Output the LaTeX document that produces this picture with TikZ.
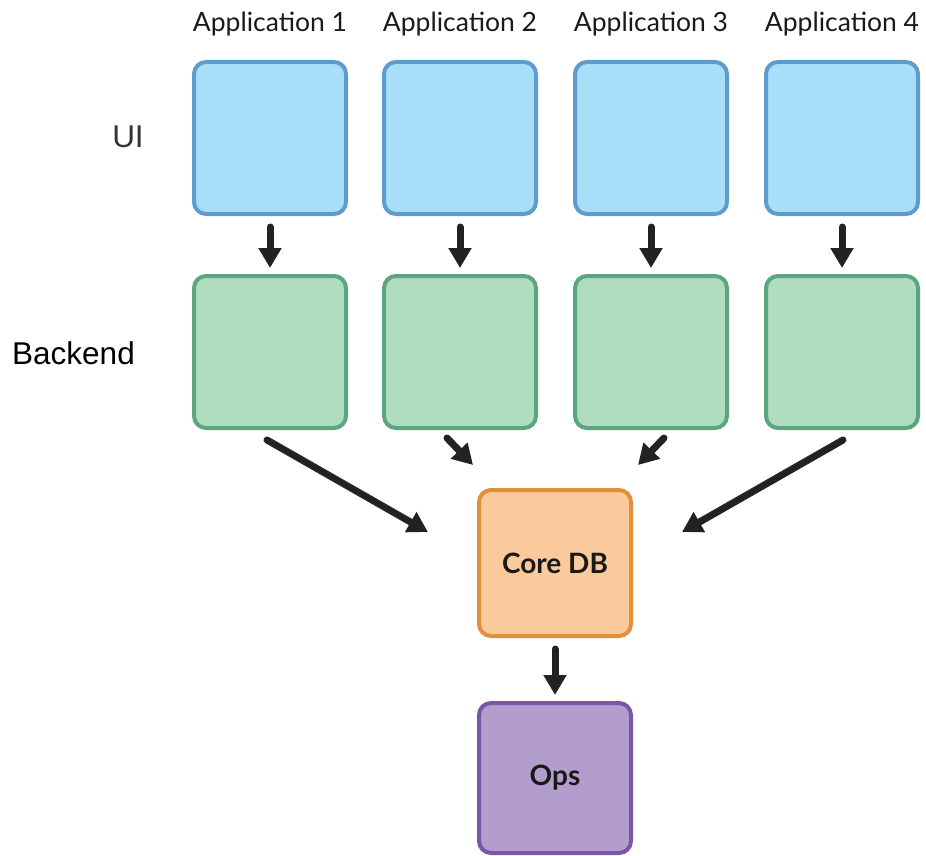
\documentclass[tikz,border=0pt]{standalone}
\usepackage{fontspec}
\setmainfont{Lato}
\newfontfamily\arialf{Liberation Sans}
\usetikzlibrary{arrows.meta}
\definecolor{uifill}{HTML}{A8DEF8}
\definecolor{uiline}{HTML}{5E9DCB}
\definecolor{befill}{HTML}{B0DCC0}
\definecolor{beline}{HTML}{5CA67F}
\definecolor{dbfill}{HTML}{FAC99C}
\definecolor{dbline}{HTML}{E0903A}
\definecolor{opfill}{HTML}{B39DCD}
\definecolor{opline}{HTML}{7A55A8}
\definecolor{arrc}{HTML}{222222}
\tikzset{
  box/.style={rectangle, rounded corners=12pt, line width=4pt, minimum width=152pt, minimum height=152pt, inner sep=0pt},
  uibox/.style={box, fill=uifill, draw=uiline},
  bebox/.style={box, fill=befill, draw=beline},
  dbbox/.style={box, fill=dbfill, draw=dbline, minimum height=146pt},
  opbox/.style={box, fill=opfill, draw=opline, minimum height=150pt},
  head/.style={font=\fontsize{26.5}{30}\selectfont, text=black!90, anchor=base, inner sep=0pt},
  side/.style={font=\arialf\fontsize{31.5}{34}\selectfont, inner sep=0pt},
  inner/.style={font=\bfseries\fontsize{28}{32}\selectfont, text=black!90},
  arr/.style={draw=arrc, line width=7pt, line cap=round, -{Triangle[length=20pt,width=22pt]}}
}
\begin{document}
\begin{tikzpicture}[x=1pt,y=-1pt]
\useasboundingbox (0,0) rectangle (926,856);
% headers
\node[head] (h1) at (270,32) {Application 1};
\node[head] (h2) at (460,32) {Application 2};
\node[head] (h3) at (651,32) {Application 3};
\node[head] (h4) at (842,32) {Application 4};
% side labels
\node[side, text=black!80, anchor=base] (lui) at (128,147) {UI};
\node[side, text=black, anchor=base west] (lbe) at (12,364) {Backend};
% UI boxes
\node[uibox] (u1) at (270,138) {};
\node[uibox] (u2) at (460,138) {};
\node[uibox] (u3) at (651,138) {};
\node[uibox] (u4) at (842,138) {};
% Backend boxes
\node[bebox] (b1) at (270,352) {};
\node[bebox] (b2) at (460,352) {};
\node[bebox] (b3) at (651,352) {};
\node[bebox] (b4) at (842,352) {};
% Core DB and Ops
\node[dbbox, inner] (core) at (555,563) {Core DB};
\node[opbox, inner] (ops) at (555,778) {Ops};
% arrows UI -> Backend
\foreach \i in {1,2,3,4}{
  \draw[arr] ([yshift=-11pt]u\i.south) -- ([yshift=6pt]b\i.north);
}
% arrows Backend -> Core DB
\draw[arr] ([xshift=-3pt,yshift=-10pt]b1.south) -- ([xshift=-49pt,yshift=31pt]core.west);
\draw[arr] ([xshift=-13pt,yshift=-8pt]b2.south) -- ([xshift=-82pt,yshift=23pt]core.north);
\draw[arr] ([xshift=13pt,yshift=-8pt]b3.south) -- ([xshift=83pt,yshift=23pt]core.north);
\draw[arr] ([xshift=1pt,yshift=-10pt]b4.south) -- ([xshift=49pt,yshift=31pt]core.east);
% Core DB -> Ops
\draw[arr] ([yshift=-11pt]core.south) -- ([yshift=6pt]ops.north);
\end{tikzpicture}
\end{document}
